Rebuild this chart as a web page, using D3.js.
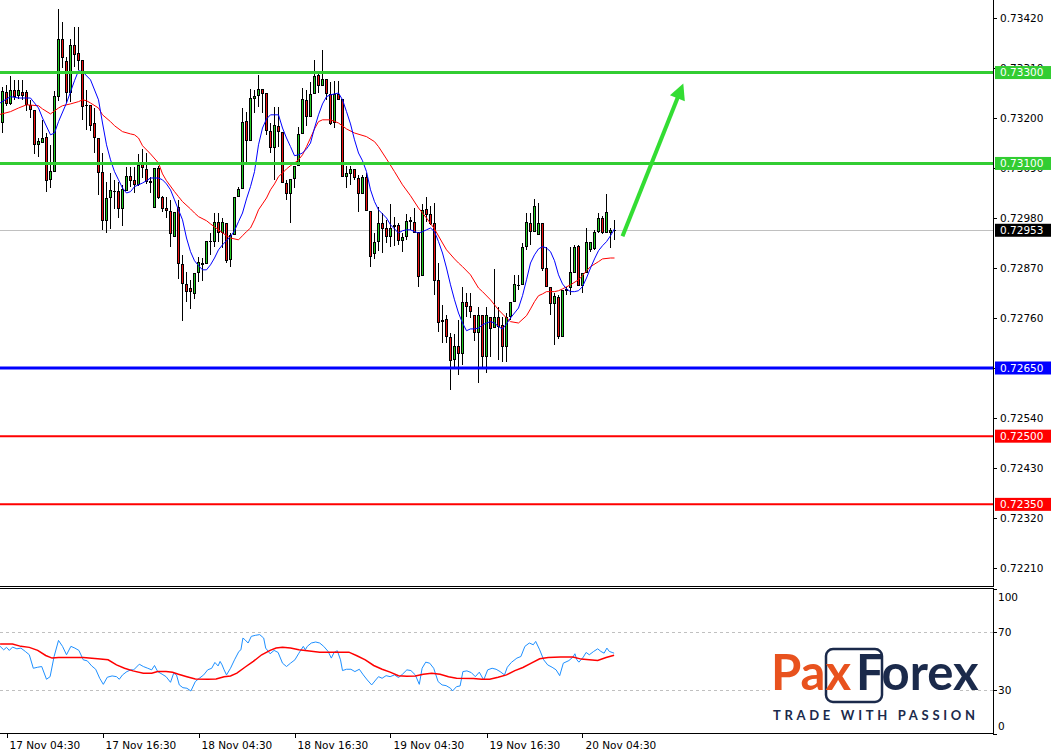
<!DOCTYPE html>
<html><head><meta charset="utf-8">
<script src="https://cdn.jsdelivr.net/npm/d3@7"></script>
<style>body{margin:0;background:#fff}svg{display:block}</style>
</head><body><svg id="c" width="1057" height="753"></svg>
<script>
// ---------- DATA ----------
const opens = [0.73189,0.73258,0.73231,0.73262,0.73249,0.73258,0.73258,0.73229,0.73218,0.73141,
0.73145,0.73159,0.73064,0.73082,0.73247,0.73374,0.73326,0.73255,0.73361,0.73343,
0.73328,0.73228,0.73229,0.73189,0.73156,0.73082,0.72974,0.73024,0.73038,0.73040,
0.73000,0.73040,0.73073,0.73064,0.73053,0.73104,0.73088,0.73062,0.73002,0.73090,
0.73027,0.73002,0.72996,0.72939,0.73005,0.72879,0.72835,0.72826,0.72813,0.72859,
0.72877,0.72879,0.72928,0.72928,0.72972,0.72947,0.72969,0.72888,0.72943,0.73027,
0.73044,0.73194,0.73150,0.73242,0.73249,0.73264,0.73255,0.73172,0.73134,0.73183,
0.73170,0.73057,0.73033,0.73066,0.73095,0.73165,0.73240,0.73203,0.73253,0.73295,
0.73271,0.73286,0.73253,0.73189,0.73253,0.73242,0.73071,0.73077,0.73088,0.73068,
0.73033,0.73071,0.72996,0.72901,0.72928,0.72969,0.72958,0.72939,0.72961,0.72965,
0.72930,0.72939,0.72972,0.72972,0.72950,0.72853,0.73000,0.72989,0.72969,0.72844,
0.72752,0.72758,0.72719,0.72668,0.72699,0.72681,0.72796,0.72787,0.72767,0.72727,
0.72767,0.72675,0.72763,0.72738,0.72763,0.72745,0.72697,0.72763,0.72796,0.72831,
0.72833,0.72917,0.72969,0.72950,0.72943,0.72969,0.72870,0.72829,0.72791,0.72807,
0.72719,0.72820,0.72826,0.72859,0.72919,0.72831,0.72859,0.72910,0.72912,0.72950,
0.72980,0.72947,0.72947,0.72954];
const highs = [0.73269,0.73273,0.73293,0.73284,0.73284,0.73284,0.73262,0.73240,0.73218,0.73156,
0.73196,0.73167,0.73141,0.73260,0.73440,0.73412,0.73335,0.73374,0.73401,0.73401,
0.73328,0.73262,0.73229,0.73222,0.73156,0.73123,0.73060,0.73079,0.73064,0.73060,
0.73053,0.73093,0.73093,0.73093,0.73121,0.73132,0.73123,0.73071,0.73090,0.73095,
0.73029,0.73027,0.73020,0.72994,0.73020,0.72899,0.72862,0.72844,0.72859,0.72895,
0.72892,0.72930,0.72947,0.72991,0.72991,0.72980,0.72969,0.72947,0.73027,0.73049,
0.73222,0.73214,0.73264,0.73262,0.73295,0.73264,0.73255,0.73189,0.73225,0.73225,
0.73170,0.73064,0.73066,0.73095,0.73181,0.73266,0.73262,0.73280,0.73328,0.73302,
0.73350,0.73286,0.73280,0.73282,0.73282,0.73242,0.73095,0.73095,0.73088,0.73075,
0.73075,0.73079,0.72996,0.72947,0.73005,0.72991,0.72976,0.73011,0.72983,0.72969,
0.72947,0.72989,0.72983,0.73002,0.72950,0.73011,0.73027,0.73007,0.73013,0.72881,
0.72789,0.72767,0.72727,0.72725,0.72756,0.72829,0.72815,0.72815,0.72767,0.72785,
0.72767,0.72785,0.72763,0.72868,0.72785,0.72763,0.72771,0.72796,0.72855,0.72855,
0.72925,0.72991,0.72991,0.73022,0.73013,0.72969,0.72917,0.72829,0.72815,0.72811,
0.72822,0.72829,0.72917,0.72921,0.72921,0.72859,0.72958,0.72928,0.72954,0.72991,
0.72985,0.73033,0.72958,0.72976];
const lows = [0.73167,0.73227,0.73229,0.73240,0.73242,0.73240,0.73216,0.73200,0.73121,0.73115,
0.73145,0.73038,0.73046,0.73082,0.73238,0.73310,0.73233,0.73236,0.73313,0.73306,
0.73196,0.73174,0.73172,0.73123,0.73031,0.72954,0.72947,0.72956,0.73000,0.72980,
0.72963,0.73040,0.73049,0.73035,0.73051,0.73068,0.73055,0.73035,0.73002,0.73022,
0.72994,0.72980,0.72917,0.72939,0.72846,0.72754,0.72796,0.72780,0.72802,0.72840,
0.72842,0.72879,0.72899,0.72917,0.72928,0.72914,0.72881,0.72873,0.72943,0.73027,
0.73044,0.73101,0.73150,0.73211,0.73225,0.73211,0.73163,0.73123,0.73064,0.73137,
0.73057,0.73020,0.72969,0.73046,0.73095,0.73165,0.73183,0.73203,0.73253,0.73255,
0.73271,0.73240,0.73185,0.73178,0.73240,0.73071,0.73046,0.73053,0.73064,0.72994,
0.73033,0.72996,0.72873,0.72890,0.72908,0.72903,0.72925,0.72917,0.72919,0.72921,
0.72906,0.72932,0.72954,0.72947,0.72829,0.72853,0.72972,0.72965,0.72811,0.72730,
0.72705,0.72705,0.72602,0.72653,0.72635,0.72657,0.72763,0.72760,0.72710,0.72617,
0.72653,0.72639,0.72675,0.72738,0.72668,0.72664,0.72664,0.72756,0.72796,0.72822,
0.72833,0.72910,0.72921,0.72950,0.72943,0.72864,0.72829,0.72767,0.72701,0.72714,
0.72719,0.72811,0.72811,0.72859,0.72831,0.72815,0.72859,0.72906,0.72910,0.72947,
0.72945,0.72947,0.72914,0.72932];
const closes = [0.73260,0.73231,0.73262,0.73247,0.73262,0.73249,0.73229,0.73218,0.73141,0.73150,
0.73156,0.73062,0.73084,0.73249,0.73374,0.73332,0.73255,0.73361,0.73339,0.73326,
0.73225,0.73226,0.73183,0.73156,0.73079,0.72974,0.73024,0.73042,0.73039,0.73000,
0.73044,0.73073,0.73062,0.73053,0.73097,0.73090,0.73060,0.73057,0.73090,0.73024,
0.73000,0.72996,0.72945,0.72994,0.72879,0.72835,0.72818,0.72818,0.72859,0.72884,
0.72881,0.72930,0.72930,0.72972,0.72947,0.72972,0.72886,0.72943,0.73027,0.73044,
0.73192,0.73150,0.73244,0.73249,0.73264,0.73253,0.73172,0.73134,0.73185,0.73170,
0.73057,0.73033,0.73066,0.73095,0.73165,0.73242,0.73203,0.73253,0.73293,0.73271,
0.73286,0.73253,0.73187,0.73253,0.73240,0.73071,0.73079,0.73088,0.73068,0.73033,
0.73071,0.72996,0.72895,0.72928,0.72969,0.72956,0.72939,0.72958,0.72965,0.72930,
0.72939,0.72974,0.72976,0.72947,0.72851,0.72998,0.72987,0.72967,0.72842,0.72749,
0.72756,0.72719,0.72666,0.72699,0.72681,0.72796,0.72785,0.72774,0.72727,0.72767,
0.72675,0.72767,0.72736,0.72763,0.72741,0.72697,0.72763,0.72796,0.72835,0.72833,
0.72917,0.72972,0.72950,0.73007,0.72969,0.72868,0.72829,0.72791,0.72809,0.72719,
0.72822,0.72824,0.72862,0.72917,0.72831,0.72859,0.72928,0.72928,0.72950,0.72980,
0.72947,0.72994,0.72954,0.72953];

// fast moving average (blue) [bar, price]
const maFast = [[-1,0.73231],[2,0.73247],[4,0.73244],[7,0.73244],[9,0.73222],[10,0.73200],[12,0.73163],[13,0.73167],[14,0.73192],[16,0.73233],[18,0.73282],[19,0.73304],[20,0.73302],[22,0.73284],[24,0.73240],[25,0.73189],[26,0.73141],[27,0.73108],[28,0.73082],[29,0.73064],[30,0.73046],[31,0.73035],[32,0.73038],[33,0.73049],[35,0.73057],[36,0.73062],[37,0.73068],[39,0.73068],[40,0.73064],[41,0.73055],[42,0.73042],[43,0.73020],[44,0.72998],[45,0.72976],[46,0.72936],[47,0.72906],[48,0.72886],[49,0.72875],[50,0.72866],[51,0.72866],[52,0.72877],[53,0.72892],[54,0.72910],[55,0.72921],[56,0.72930],[57,0.72939],[58,0.72952],[59,0.72972],[60,0.72991],[61,0.73022],[62,0.73049],[63,0.73082],[64,0.73141],[65,0.73178],[66,0.73198],[67,0.73207],[68,0.73207],[69,0.73207],[70,0.73178],[71,0.73156],[72,0.73137],[73,0.73117],[74,0.73119],[75,0.73123],[76,0.73132],[77,0.73145],[78,0.73178],[79,0.73207],[80,0.73231],[81,0.73247],[82,0.73251],[83,0.73253],[84,0.73255],[85,0.73240],[86,0.73214],[87,0.73187],[88,0.73152],[89,0.73123],[90,0.73106],[91,0.73082],[92,0.73042],[93,0.73016],[94,0.72998],[95,0.72989],[96,0.72980],[97,0.72965],[98,0.72956],[99,0.72947],[100,0.72952],[101,0.72954],[102,0.72954],[103,0.72950],[104,0.72947],[105,0.72950],[106,0.72954],[107,0.72958],[108,0.72950],[109,0.72928],[110,0.72903],[111,0.72870],[112,0.72833],[113,0.72800],[114,0.72771],[115,0.72749],[116,0.72732],[117,0.72736],[118,0.72736],[119,0.72738],[120,0.72745],[121,0.72749],[122,0.72752],[123,0.72749],[124,0.72741],[125,0.72736],[126,0.72747],[127,0.72760],[128,0.72771],[129,0.72782],[130,0.72809],[131,0.72844],[132,0.72881],[133,0.72899],[134,0.72912],[135,0.72917],[136,0.72914],[137,0.72906],[138,0.72886],[139,0.72855],[140,0.72835],[141,0.72824],[142,0.72818],[143,0.72818],[144,0.72820],[145,0.72829],[146,0.72848],[147,0.72870],[148,0.72890],[149,0.72908],[150,0.72919],[151,0.72928],[152,0.72941],[153,0.72956]];
// slow moving average (red) [bar, price]
const maSlow = [[-1,0.73207],[2,0.73214],[4,0.73222],[6,0.73229],[9,0.73227],[10,0.73220],[12,0.73209],[14,0.73222],[15,0.73227],[17,0.73231],[19,0.73236],[20,0.73240],[21,0.73238],[22,0.73233],[24,0.73222],[25,0.73207],[27,0.73192],[28,0.73183],[30,0.73170],[32,0.73165],[33,0.73163],[34,0.73156],[35,0.73139],[37,0.73121],[39,0.73101],[40,0.73077],[41,0.73062],[43,0.73038],[44,0.73027],[45,0.73016],[47,0.73000],[48,0.72991],[49,0.72983],[51,0.72974],[52,0.72967],[54,0.72954],[56,0.72941],[57,0.72936],[59,0.72932],[60,0.72941],[61,0.72950],[62,0.72958],[63,0.72976],[64,0.72998],[65,0.73011],[66,0.73024],[67,0.73042],[68,0.73055],[69,0.73071],[70,0.73079],[71,0.73088],[72,0.73095],[73,0.73101],[74,0.73108],[75,0.73119],[76,0.73137],[77,0.73156],[78,0.73176],[79,0.73192],[80,0.73196],[82,0.73196],[84,0.73189],[86,0.73176],[88,0.73167],[91,0.73159],[93,0.73148],[94,0.73137],[96,0.73110],[98,0.73082],[100,0.73053],[102,0.73029],[104,0.73002],[106,0.72980],[108,0.72956],[110,0.72925],[111,0.72910],[113,0.72890],[114,0.72881],[115,0.72873],[117,0.72855],[119,0.72826],[120,0.72818],[122,0.72800],[124,0.72778],[126,0.72760],[127,0.72752],[129,0.72749],[131,0.72765],[132,0.72780],[133,0.72796],[134,0.72809],[135,0.72813],[136,0.72818],[138,0.72818],[139,0.72820],[140,0.72824],[142,0.72833],[144,0.72844],[145,0.72853],[146,0.72864],[147,0.72873],[149,0.72884],[150,0.72890],[152,0.72892],[153,0.72892]];
// RSI (blue) [bar, value]
const rsiMain = [[-0.6,60.1],[0.3,57.7],[1.0,59.4],[1.7,57.3],[2.5,59.6],[3.6,58.4],[4.6,58.9],[5.7,56.6],[6.7,54.3],[7.7,45.0],[8.8,45.7],[9.8,46.2],[11.0,37.4],[11.9,39.2],[12.9,53.1],[14.0,64.2],[15.0,60.1],[16.0,54.3],[17.1,60.1],[18.1,58.9],[19.1,57.3],[20.2,50.8],[21.2,50.1],[22.3,46.6],[23.3,44.3],[24.3,38.1],[25.2,33.9],[26.2,38.8],[27.4,39.7],[28.5,39.2],[29.2,37.4],[30.0,40.4],[31.1,42.7],[32.1,43.9],[32.8,43.9],[34.2,47.8],[35.2,46.2],[36.3,45.0],[37.3,43.9],[38.0,46.9],[38.8,42.7],[39.9,40.9],[40.9,39.2],[42.0,35.3],[42.8,41.6],[43.5,40.4],[44.2,33.5],[45.1,31.6],[46.1,31.2],[47.1,29.3],[48.2,35.8],[49.2,38.1],[50.3,40.4],[51.3,43.9],[52.3,45.0],[53.1,49.0],[53.9,46.6],[54.4,49.7],[54.9,47.3],[55.4,43.9],[56.0,40.4],[57.0,45.0],[58.0,50.8],[59.1,56.6],[59.6,57.7],[60.1,65.8],[60.6,64.7],[61.4,62.4],[62.2,67.0],[63.2,67.7],[64.3,68.2],[65.3,65.8],[65.8,58.9],[66.9,55.0],[67.9,57.3],[68.9,55.9],[70.0,48.5],[71.0,46.2],[72.0,48.5],[73.1,50.8],[74.1,55.4],[75.2,60.1],[75.7,57.7],[76.2,60.1],[77.2,62.4],[78.3,63.1],[79.3,62.4],[80.3,60.1],[81.4,56.6],[82.2,52.0],[82.9,55.9],[83.7,57.1],[84.5,50.8],[85.0,43.4],[86.0,44.3],[87.1,44.3],[88.1,42.7],[89.2,44.3],[90.2,40.4],[91.2,36.9],[92.3,33.5],[93.3,36.9],[94.0,39.2],[94.9,38.1],[95.9,39.9],[96.9,39.2],[98.0,40.4],[99.0,38.6],[100.0,40.9],[101.1,43.9],[102.1,43.4],[103.2,40.4],[104.2,33.9],[104.9,45.0],[105.8,49.2],[106.8,48.5],[107.8,45.0],[108.9,35.8],[109.9,33.5],[110.9,33.0],[112.0,31.2],[112.5,29.3],[113.5,32.3],[114.4,32.8],[115.1,42.7],[116.1,43.2],[117.2,42.0],[118.2,39.2],[119.2,42.3],[120.3,36.9],[121.3,43.9],[122.4,45.0],[123.4,44.3],[124.4,42.7],[125.5,40.4],[126.2,45.7],[127.2,49.0],[128.6,52.0],[129.6,53.1],[130.6,60.1],[131.7,62.4],[132.7,61.2],[133.3,63.5],[134.3,57.7],[135.3,50.8],[136.3,47.3],[137.4,45.7],[138.4,43.9],[139.3,39.9],[140.2,48.5],[141.6,50.3],[142.6,52.7],[143.1,55.0],[143.6,50.8],[144.1,49.2],[145.2,52.7],[145.9,55.9],[146.7,54.3],[147.8,56.6],[148.8,58.4],[149.6,56.6],[150.4,55.4],[151.1,58.9],[151.7,56.6],[152.4,55.9],[152.9,55.4]];
// RSI signal (red) [bar, value]
const rsiSignal = [[-0.6,61.7],[2.5,61.7],[4.6,60.1],[6.7,59.4],[8.8,57.3],[10.8,53.8],[12.4,52.0],[14.0,52.4],[20.2,52.4],[23.8,51.5],[26.4,50.8],[28.5,47.3],[30.5,45.0],[32.6,43.2],[35.2,41.6],[37.3,41.6],[38.8,42.7],[40.9,42.7],[42.5,42.3],[44.0,40.9],[46.1,39.2],[48.2,37.6],[51.3,37.4],[53.4,37.6],[55.4,39.2],[57.0,39.7],[58.6,41.6],[60.6,45.7],[62.7,49.7],[64.8,54.3],[66.9,57.3],[68.4,58.9],[70.0,59.4],[72.0,58.9],[74.1,57.7],[76.2,57.1],[79.3,56.1],[82.4,56.1],[86.6,56.1],[88.6,53.6],[90.7,50.8],[92.8,46.9],[94.9,44.3],[96.9,42.3],[99.0,39.9],[101.1,39.5],[103.2,39.7],[105.2,40.9],[107.3,41.6],[109.4,40.9],[111.5,39.2],[113.5,38.1],[117.7,37.9],[119.8,37.4],[121.8,37.4],[123.9,38.8],[126.0,40.4],[128.1,43.4],[130.1,45.5],[132.2,48.5],[134.3,51.5],[136.4,52.4],[139.5,52.7],[142.6,52.7],[144.7,51.3],[146.7,50.8],[148.8,50.3],[150.9,52.4],[152.9,54.0]];

const priceTicks = [0.73420,0.73310,0.73200,0.73090,0.72980,0.72870,0.72760,0.72650,0.72540,0.72430,0.72320,0.72210];
const rsiTicks = [100,70,30,0];
const rsiLevels = [70,30];
const timeTickBars = [1,25,49,73,97,121,145];
const timeTickLabels = ["17 Nov 04:30","17 Nov 16:30","18 Nov 04:30","18 Nov 16:30","19 Nov 04:30","19 Nov 16:30","20 Nov 04:30"];
const levelPrices = [0.73300,0.73100,0.72650,0.72500,0.72350];
const levelColors = ["#32cd32","#32cd32","#0000ff","#ff0000","#ff0000"];
const lastPrice = 0.72953;
const arrowFrom = [155, 0.72940];
const arrowTo = [170.2, 0.73276];

// ---------- CHART ----------
const svg = d3.select("#c");
const AX = 993;               // right axis x
const FONT = "DejaVu Sans, Tahoma, sans-serif";
const x = d3.scaleLinear().domain([0,153]).range([2.5,614.5]);
const y = d3.scaleLinear().domain([0.721704,0.734596]).range([586,0]);
const yr = d3.scaleLinear().domain([0,100]).range([733.5,588.5]);
const fmt = d3.format(".5f");

const defs = svg.append("defs");
defs.append("clipPath").attr("id","cm").append("rect").attr("x",0).attr("y",0).attr("width",AX).attr("height",586);
defs.append("clipPath").attr("id","cr").append("rect").attr("x",0).attr("y",589).attr("width",AX).attr("height",144);

const main = svg.append("g").attr("clip-path","url(#cm)");
// bid line
main.append("line").attr("x1",0).attr("x2",AX).attr("y1",Math.round(y(lastPrice))+0.5).attr("y2",Math.round(y(lastPrice))+0.5)
  .attr("stroke","#c0c0c0").attr("stroke-width",1);

// candles
const bars = d3.range(closes.length);
const cg = main.append("g").attr("shape-rendering","crispEdges");
cg.selectAll("line.w").data(bars).join("line")
  .attr("x1",i=>x(i)).attr("x2",i=>x(i)).attr("y1",i=>y(highs[i])).attr("y2",i=>y(lows[i]))
  .attr("stroke","#000").attr("stroke-width",1);
cg.selectAll("rect.b").data(bars).join("rect")
  .attr("x",i=>x(i)-1.5).attr("width",3)
  .attr("y",i=>Math.round(y(Math.max(opens[i],closes[i]))))
  .attr("height",i=>Math.max(1,Math.round(y(Math.min(opens[i],closes[i])))-Math.round(y(Math.max(opens[i],closes[i])))))
  .attr("fill","#000");
cg.selectAll("rect.f").data(bars.filter(i=>Math.abs(y(opens[i])-y(closes[i]))>2.5)).join("rect")
  .attr("x",i=>x(i)-0.5).attr("width",1)
  .attr("y",i=>Math.round(y(Math.max(opens[i],closes[i])))+1)
  .attr("height",i=>Math.round(y(Math.min(opens[i],closes[i])))-Math.round(y(Math.max(opens[i],closes[i])))-2)
  .attr("fill",i=>closes[i]>=opens[i]?"#22cc22":"#ee1111");

// moving averages
const mline = d3.line().x(d=>x(d[0])).y(d=>y(d[1]));
main.append("path").datum(maSlow).attr("d",mline).attr("fill","none").attr("stroke","#ff0000").attr("stroke-width",1);
main.append("path").datum(maFast).attr("d",mline).attr("fill","none").attr("stroke","#0000ff").attr("stroke-width",1);

// level lines
main.selectAll("line.lv").data(levelPrices).join("line")
  .attr("x1",0).attr("x2",AX).attr("y1",d=>y(d)).attr("y2",d=>y(d))
  .attr("stroke",(d,i)=>levelColors[i]).attr("stroke-width",(d,i)=>i>=3?2:3);

// arrow
{
  const x1=x(arrowFrom[0]), y1=y(arrowFrom[1]), x2=x(arrowTo[0]), y2=y(arrowTo[1]);
  const L=Math.hypot(x2-x1,y2-y1), ux=(x2-x1)/L, uy=(y2-y1)/L;
  const hl=16, hw=8;
  const bx=x2-ux*hl, by=y2-uy*hl;
  main.append("line").attr("x1",x1).attr("y1",y1).attr("x2",bx+ux*2).attr("y2",by+uy*2)
    .attr("stroke","#33dd33").attr("stroke-width",4);
  main.append("path").attr("d",`M${x2},${y2}L${bx-uy*hw},${by+ux*hw}L${bx+uy*hw},${by-ux*hw}Z`).attr("fill","#33dd33");
}

// main frame: bottom double line & axis
svg.append("line").attr("x1",0).attr("x2",AX+1).attr("y1",586.5).attr("y2",586.5).attr("stroke","#000");
svg.append("line").attr("x1",AX+0.5).attr("x2",AX+0.5).attr("y1",0).attr("y2",587).attr("stroke","#000");

// price axis
const pa = svg.append("g");
pa.selectAll("line").data(priceTicks).join("line")
  .attr("x1",AX).attr("x2",AX+4).attr("y1",d=>Math.round(y(d))+0.5).attr("y2",d=>Math.round(y(d))+0.5).attr("stroke","#000");
pa.selectAll("text").data(priceTicks).join("text")
  .attr("x",1000).attr("y",d=>y(d)).attr("dy","0.36em").attr("font-family",FONT).attr("font-size",10.5).attr("fill","#000")
  .text(d=>fmt(d));

// level labels
const lab = svg.append("g");
const labData = levelPrices.map((p,i)=>({p,c:levelColors[i]})).concat([{p:lastPrice,c:"#000"}]);
lab.selectAll("rect").data(labData).join("rect")
  .attr("x",995).attr("width",56).attr("y",d=>y(d.p)-6.5).attr("height",13).attr("fill",d=>d.c);
lab.selectAll("text").data(labData).join("text")
  .attr("x",1000).attr("y",d=>y(d.p)).attr("dy","0.36em").attr("font-family",FONT).attr("font-size",10.5).attr("fill","#fff")
  .text(d=>fmt(d.p));

// ---------- RSI panel ----------
const rp = svg.append("g").attr("clip-path","url(#cr)");
rp.selectAll("line.lv").data(rsiLevels).join("line")
  .attr("x1",0).attr("x2",AX).attr("y1",d=>Math.round(yr(d))+0.5).attr("y2",d=>Math.round(yr(d))+0.5)
  .attr("stroke","#c0c0c0").attr("stroke-dasharray","3,3");
const rline = d3.line().x(d=>x(d[0])).y(d=>yr(d[1]));
rp.append("path").datum(rsiMain).attr("d",rline).attr("fill","none").attr("stroke","#1e90ff").attr("stroke-width",1);
rp.append("path").datum(rsiSignal).attr("d",rline).attr("fill","none").attr("stroke","#ff0000").attr("stroke-width",1.5);

svg.append("line").attr("x1",0).attr("x2",AX+1).attr("y1",588.5).attr("y2",588.5).attr("stroke","#000");
svg.append("line").attr("x1",0).attr("x2",AX+1).attr("y1",733.5).attr("y2",733.5).attr("stroke","#000");
svg.append("line").attr("x1",AX+0.5).attr("x2",AX+0.5).attr("y1",588).attr("y2",734).attr("stroke","#000");
const ra = svg.append("g");
ra.selectAll("line").data(rsiTicks).join("line")
  .attr("x1",AX).attr("x2",AX+4).attr("y1",d=>Math.round(yr(d))+0.5).attr("y2",d=>Math.round(yr(d))+0.5).attr("stroke","#000");
ra.selectAll("text").data(rsiTicks).join("text")
  .attr("x",998).attr("y",d=>Math.min(Math.max(yr(d),597),726)).attr("dy","0.36em")
  .attr("font-family",FONT).attr("font-size",10.5).attr("fill","#000").text(d=>d);

// ---------- time axis ----------
const ta = svg.append("g");
ta.selectAll("line").data(timeTickBars).join("line")
  .attr("x1",d=>Math.round(x(d))+0.5).attr("x2",d=>Math.round(x(d))+0.5).attr("y1",733).attr("y2",738).attr("stroke","#000");
ta.selectAll("text").data(timeTickBars).join("text")
  .attr("x",d=>x(d)+3).attr("y",749).attr("font-family",FONT).attr("font-size",10.5).attr("fill","#000")
  .text((d,i)=>timeTickLabels[i]);

// ---------- logo ----------
const lg = svg.append("g");
lg.append("rect").attr("x",770).attr("y",645).attr("width",190).attr("height",62).attr("fill","#fff");
lg.append("rect").attr("x",826).attr("y",649).attr("width",56).attr("height",53).attr("rx",7)
  .attr("fill","none").attr("stroke","#1b2a4b").attr("stroke-width",2.5);
lg.append("text").attr("x",771).attr("y",690).attr("font-family","Lato, Open Sans, sans-serif").attr("font-weight",700)
  .attr("font-size",49).attr("fill","#e8521e").text("Pax");
lg.append("text").attr("x",856).attr("y",690).attr("font-family","Lato, Open Sans, sans-serif").attr("font-weight",700)
  .attr("font-size",49).attr("fill","#1b2a4b").text("Forex");
lg.append("text").attr("x",773).attr("y",720).attr("font-family","Lato, Open Sans, sans-serif").attr("font-weight",700)
  .attr("font-size",13).attr("fill","#1b2a4b").attr("textLength",202).attr("lengthAdjust","spacing").text("TRADE WITH PASSION");
</script></body></html>
